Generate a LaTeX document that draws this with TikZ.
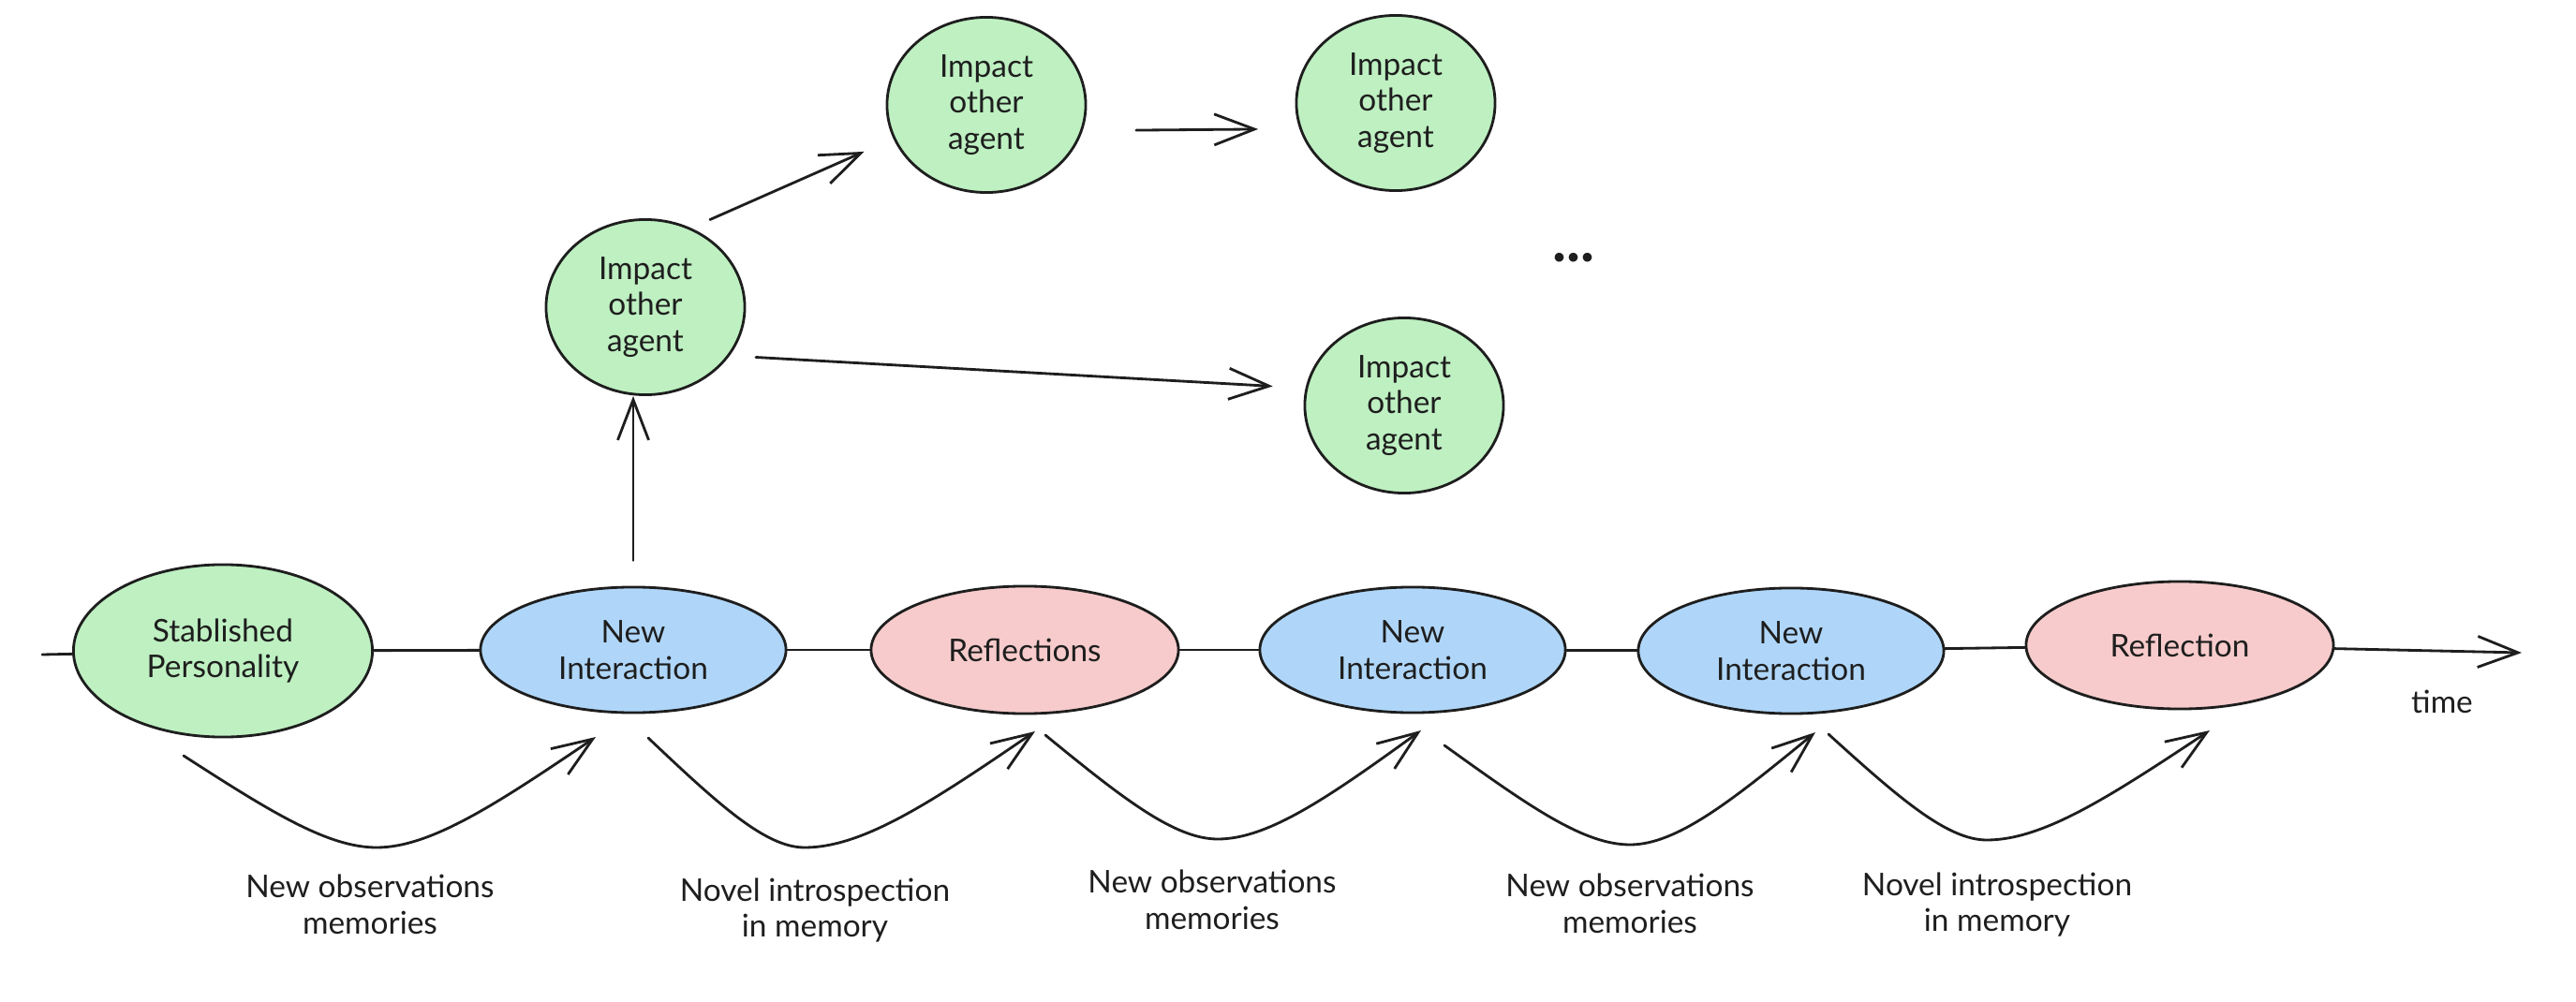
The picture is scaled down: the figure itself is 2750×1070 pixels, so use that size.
\documentclass[tikz,border=0pt]{standalone}
\usepackage{fontspec}
\setmainfont{Lato}
\usetikzlibrary{shapes.geometric,arrows.meta}

\definecolor{ink}{RGB}{30,30,30}
\definecolor{leaf}{RGB}{190,240,193}
\definecolor{sky}{RGB}{175,214,249}
\definecolor{rose}{RGB}{247,203,203}

\begin{document}
\begin{tikzpicture}[x=0.01cm, y=-0.01cm,
  every node/.style={font=\fontsize{9.5}{11}\selectfont, text=ink, align=center},
  bubble/.style={ellipse, draw=ink, line width=0.8pt, inner sep=0pt},
  personality/.style={bubble, fill=leaf, minimum width=3.19cm, minimum height=1.84cm},
  interaction/.style={bubble, fill=sky, minimum width=3.26cm, minimum height=1.34cm},
  reflect/.style={bubble, fill=rose, minimum width=3.28cm, minimum height=1.36cm},
  impact/.style={bubble, fill=leaf, minimum width=2.12cm, minimum height=1.87cm},
  link/.style={draw=ink, line width=0.8pt, line cap=round},
  arrowed/.style={link, -{Straight Barb[length=0.43cm, width=0.33cm]}}]

% canvas
\fill[white] (0,0) rectangle (2750,1070);
\useasboundingbox (0,0) rectangle (2750,1070);

% timeline nodes
\node[personality] (sp)  at (238,695)  {Stablished\\Personality};
\node[interaction] (ni1) at (676,694)  {New\\Interaction};
\node[reflect]     (rf1) at (1094,694) {Reflections};
\node[interaction] (ni2) at (1508,694) {New\\Interaction};
\node[interaction] (ni3) at (1912,695) {New\\Interaction};
\node[reflect]     (rf2) at (2327,689) {Reflection};

% influence on other agents
\node[impact] (ia) at (689,328)  {Impact\\other\\agent};
\node[impact] (ib) at (1053,112) {Impact\\other\\agent};
\node[impact] (ic) at (1490,110) {Impact\\other\\agent};
\node[impact] (id) at (1499,433) {Impact\\other\\agent};
\node[font=\fontsize{18}{18}\selectfont\bfseries] (dots) at (1680,275) {...};

% time axis
\coordinate (t0) at (45,699);
\coordinate (t1) at (2692,697);
\draw[link] (t0) -- (sp);
\draw[link] (sp) -- (ni1);
\draw[link] (ni1) -- (rf1);
\draw[link] (rf1) -- (ni2);
\draw[link] (ni2) -- (ni3);
\draw[link] (ni3) -- (rf2);
\draw[arrowed] (rf2) -- (t1);
\node (time) at (2607,749) {time};

% branching arrows
\draw[arrowed, shorten <=0.27cm] (ni1.north) -- (ni1.north |- ia.south);
\draw[arrowed, shorten <=0.22cm, shorten >=0.34cm] (ia.60) -- (ib.200);
\draw[arrowed, shorten <=0.57cm, shorten >=0.44cm] (ib.-15) -- (ic.195);
\draw[arrowed, shorten <=0.28cm, shorten >=0.35cm] (ia.-30) -- (id.170);

% memory arcs under the timeline
\coordinate (a1s) at (196,807);  \coordinate (a1b) at (402,905);  \coordinate (a1e) at (636,787);
\coordinate (a2s) at (692,788);  \coordinate (a2b) at (859,905);  \coordinate (a2e) at (1105,781);
\coordinate (a3s) at (1116,785); \coordinate (a3b) at (1300,896); \coordinate (a3e) at (1517,780);
\coordinate (a4s) at (1542,796); \coordinate (a4b) at (1740,902); \coordinate (a4e) at (1938,782);
\coordinate (a5s) at (1952,784); \coordinate (a5b) at (2121,897); \coordinate (a5e) at (2359,780);

\draw[arrowed] (a1s) .. controls +(93,60) and +(-52,0) .. (a1b) .. controls +(58,0) and +(-105,71) .. (a1e);
\draw[arrowed] (a2s) .. controls +(75,71) and +(-42,0) .. (a2b) .. controls +(62,0) and +(-111,76) .. (a2e);
\draw[arrowed] (a3s) .. controls +(83,68) and +(-46,0) .. (a3b) .. controls +(54,0) and +(-98,71) .. (a3e);
\draw[arrowed] (a4s) .. controls +(89,64) and +(-50,0) .. (a4b) .. controls +(50,0) and +(-89,73) .. (a4e);
\draw[arrowed] (a5s) .. controls +(76,69) and +(-42,0) .. (a5b) .. controls +(60,0) and +(-107,71) .. (a5e);

% arc captions
\node (m1) at (395,966)  {New observations\\memories};
\node (m2) at (870,972)  {Novel introspection\\in memory};
\node (m3) at (1294,961) {New observations\\memories};
\node (m4) at (1740,965) {New observations\\memories};
\node (m5) at (2132,966) {Novel introspection\\in memory};
\end{tikzpicture}
\end{document}
